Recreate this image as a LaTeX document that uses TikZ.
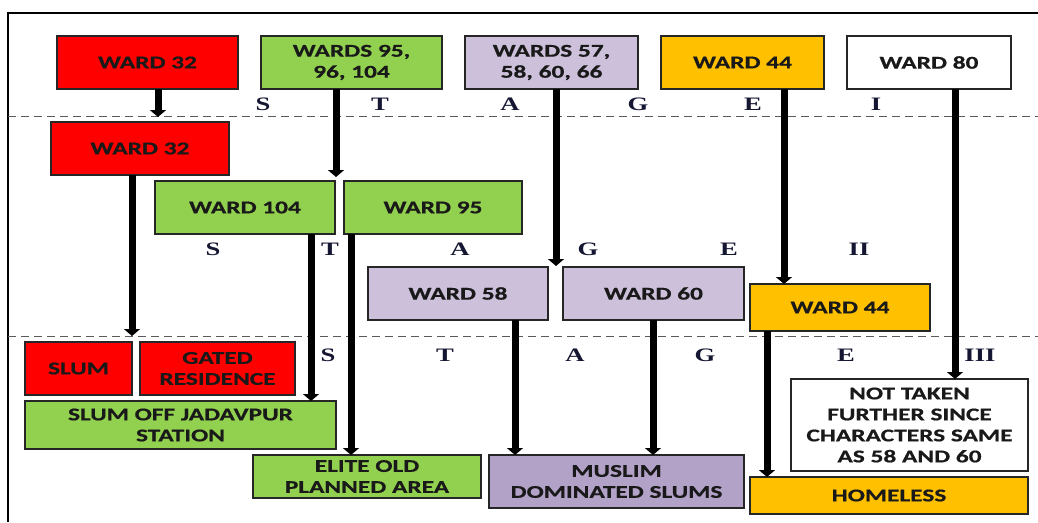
\documentclass[tikz,border=0pt]{standalone}
\usepackage{fontspec}
\usetikzlibrary{positioning, arrows.meta}
\newfontfamily\boxfont[FakeStretch=1.41, FakeBold=0.6]{Carlito}
\newfontfamily\stagefont[FakeStretch=1.4]{Liberation Serif}
\definecolor{wardred}{HTML}{FF0000}
\definecolor{wardgreen}{HTML}{92D050}
\definecolor{wardlilac}{HTML}{CCC0DA}
\definecolor{wardorange}{HTML}{FFC000}
\definecolor{wardpurple}{HTML}{B3A2C7}
\definecolor{stageblue}{RGB}{20, 22, 50}

\begin{document}
\begin{tikzpicture}[x=1pt, y=-1pt,
    ward/.style={rectangle, draw=black!85, line width=1.3pt, align=center,
                 inner sep=2pt, outer sep=0pt, minimum height=53pt,
                 text=black!90,
                 font=\boxfont\bfseries\fontsize{18}{21}\selectfont},
    redbox/.style={ward, fill=wardred},
    greenbox/.style={ward, fill=wardgreen},
    lilacbox/.style={ward, fill=wardlilac},
    orangebox/.style={ward, fill=wardorange},
    purplebox/.style={ward, fill=wardpurple},
    whitebox/.style={ward, fill=white},
    arr/.style={-{Triangle[width=16pt,length=7pt]}, line width=7pt},
    stage/.style={font=\stagefont\bfseries\fontsize{19}{20}\selectfont,
                  text=stageblue, inner sep=0pt},
    sep/.style={dashed, dash pattern=on 8pt off 5pt, line width=1pt, black!65}
  ]
  \useasboundingbox (0,0) rectangle (1038,522);

  % Frame and stage separators
  \draw[line width=1.5pt] (8,522) -- (8,13) -- (1038,13);
  \draw[sep] (8,116) -- (1038,116);
  \draw[sep] (8,336) -- (1038,336);

  % Stage I
  \node[redbox, minimum width=181pt] (w32top) at (147.5,62.5) {WARD 32};
  \node[greenbox, minimum width=181pt, right=23pt of w32top] (w95top) {WARDS 95,\\96, 104};
  \node[lilacbox, minimum width=173pt, right=23pt of w95top] (w57top) {WARDS 57,\\58, 60, 66};
  \node[orangebox, minimum width=163pt, right=23pt of w57top] (w44top) {WARD 44};
  \node[whitebox, minimum width=164pt, right=23pt of w44top] (w80top) {WARD 80};

  % Stage II
  \node[redbox, minimum width=178pt] (w32mid) at (140,148.5) {WARD 32};
  \node[greenbox, minimum width=180pt] (w104) at (245,207.5) {WARD 104};
  \node[greenbox, minimum width=178pt, right=9pt of w104] (w95) {WARD 95};
  \node[lilacbox, minimum width=180pt] (w58) at (458,293.5) {WARD 58};
  \node[lilacbox, minimum width=181pt, right=15pt of w58] (w60) {WARD 60};
  \node[orangebox, minimum width=180pt, minimum height=47pt] (w44mid) at (840,307.5) {WARD 44};

  % Stage III
  \node[redbox, minimum width=107pt] (slum) at (78.5,368.5) {SLUM};
  \node[redbox, minimum width=155pt, right=8pt of slum] (gated) {GATED\\RESIDENCE};
  \node[greenbox, minimum width=311pt, minimum height=48pt] (jadavpur) at (180.5,425) {SLUM OFF JADAVPUR\\STATION};
  \node[greenbox, minimum width=228pt, minimum height=43pt] (elite) at (367,476.5) {ELITE OLD\\PLANNED AREA};
  \node[purplebox, minimum width=255pt] (muslim) at (616.5,481.5) {MUSLIM\\DOMINATED SLUMS};
  \node[whitebox, minimum width=237pt, minimum height=92pt] (nottaken) at (909.5,425) {NOT TAKEN\\FURTHER SINCE\\CHARACTERS SAME\\AS 58 AND 60};
  \node[orangebox, minimum width=278pt, minimum height=37pt] (homeless) at (889,495.5) {HOMELESS};

  % Stage labels
  \node[stage] (s1s) at (263,104) {S};
  \node[stage] (s1t) at (380,104) {T};
  \node[stage] (s1a) at (510,104) {A};
  \node[stage] (s1g) at (638,104) {G};
  \node[stage] (s1e) at (753,104) {E};
  \node[stage] (s1n) at (876,104) {I};
  \node[stage] (s2s) at (213,249) {S};
  \node[stage] (s2t) at (330,249) {T};
  \node[stage] (s2a) at (460,249) {A};
  \node[stage] (s2g) at (588,249) {G};
  \node[stage] (s2e) at (729,249) {E};
  \node[stage] (s2n) at (859,249) {II};
  \node[stage] (s3s) at (328,355) {S};
  \node[stage] (s3t) at (445,355) {T};
  \node[stage] (s3a) at (575,355) {A};
  \node[stage] (s3g) at (705,355) {G};
  \node[stage] (s3e) at (846,355) {E};
  \node[stage] (s3n) at (980,355) {III};

  % Free arrow ends
  \coordinate (end32) at (158,117);
  \coordinate (end95) at (336,177);
  \coordinate (end57) at (556,266);
  \coordinate (split32) at (132,336);

  % Arrows
  \draw[arr] (w32top.south -| end32) -- (end32);
  \draw[arr] (w95top.south -| end95) -- (end95);
  \draw[arr] (w57top.south -| end57) -- (end57);
  \draw[arr] (w44top.south -| 784,0) -- (w44mid.north -| 784,0);
  \draw[arr] (w80top.south -| 955,0) -- (nottaken.north -| 955,0);
  \draw[arr] (w32mid.south -| split32) -- (split32);
  \draw[arr] (w104.south -| 311,0) -- (jadavpur.north -| 311,0);
  \draw[arr] (w95.south -| 351,0) -- (elite.north -| 351,0);
  \draw[arr] (w58.south -| 515,0) -- (muslim.north -| 515,0);
  \draw[arr] (w60.south -| 653,0) -- (muslim.north -| 653,0);
  \draw[arr] (w44mid.south -| 767,0) -- (homeless.north -| 767,0);
\end{tikzpicture}
\end{document}
